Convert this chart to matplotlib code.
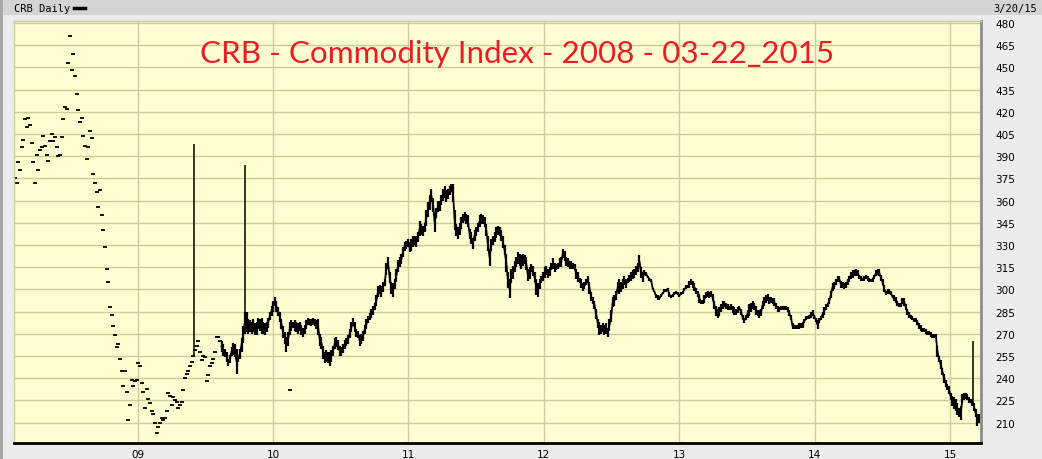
import pandas as pd
import numpy as np
import matplotlib
matplotlib.use("Agg")
import matplotlib.pyplot as plt
from matplotlib.lines import Line2D
from matplotlib.patches import Rectangle

# CRB daily, 2008 - 03/20/2015
# early part (2008 - mid 2009): only closing ticks are shown
dash_closes = [
    375, 372, 386, 381, 396, 401, 415, 410, 416, 411, 399, 386,
    372, 391, 381, 394, 396, 404, 397, 391, 387, 400, 405, 400,
    403, 396, 390, 391, 403, 415, 423, 422, 453, 471, 448, 459,
    444, 432, 421, 413, 416, 404, 397, 388, 396, 407, 402, 378,
    372, 366, 356, 367, 350, 340, 329, 314, 305, 288, 283, 275,
    269, 261, 263, 253, 245, 235, 245, 231, 212, 222, 239, 235,
    238, 239, 250, 248, 237, 231, 220, 233, 226, 223, 218, 216,
    210, 203, 207, 210, 213, 212, 213, 218, 230, 228, 222, 227,
    225, 224, 220, 222, 224, 232, 240, 243, 245, 248, 251, 255,
    259, 262, 265, 258, 252, 255, 254, 238, 242, 248, 250, 253,
    258, 268, 268, 265,
]

# later part: high / low ranges
highs = [
    265, 263, 260, 258, 253, 256, 261, 264, 263, 260, 255,
    260, 267, 275, 285, 285, 280, 279, 278, 280, 277, 278, 281,
    280, 281, 278, 277, 278, 281, 285, 289, 292, 295, 292, 288,
    285, 280, 275, 271, 268, 271, 278, 279, 278, 279, 278, 277,
    278, 276, 274, 276, 279, 281, 280, 280, 281, 280, 279, 280,
    270, 268, 262, 258, 259, 258, 258, 259, 262, 267, 268, 266,
    262, 261, 263, 266, 267, 269, 273, 278, 281, 278, 273, 272,
    269, 270, 272, 276, 280, 282, 284, 287, 289, 291, 296, 302,
    303, 302, 305, 307, 318, 322, 312, 305, 304, 307, 314, 320,
    322, 324, 329, 332, 333, 334, 332, 334, 336, 336, 336, 339,
    346, 344, 343, 345, 354, 359, 364, 368, 362, 352, 355, 360,
    360, 364, 368, 370, 367, 368, 370, 371, 371, 354, 344, 342,
    345, 349, 351, 352, 351, 350, 341, 339, 335, 340, 342, 345,
    350, 351, 350, 349, 344, 336, 327, 334, 336, 339, 342, 343,
    342, 340, 336, 330, 324, 312, 307, 314, 316, 319, 322, 325,
    324, 323, 324, 323, 322, 314, 315, 317, 316, 312, 307, 304,
    307, 309, 312, 315, 316, 314, 315, 318, 321, 318, 317, 318,
    321, 322, 327, 326, 322, 321, 319, 319, 318, 317, 314, 312,
    308, 307, 304, 305, 307, 309, 305, 298, 295, 292, 287, 280,
    278, 276, 277, 276, 277, 274, 280, 286, 295, 296, 299, 305,
    307, 305, 307, 309, 307, 308, 310, 312, 313, 314, 316, 318,
    323, 315, 312, 313, 312, 309, 308, 307, 301, 299, 297, 296,
    295, 297, 298, 300, 300, 301, 298, 296, 297, 298, 299, 298,
    297, 298, 299, 301, 303, 303, 306, 307, 306, 304, 301, 299,
    297, 293, 293, 296, 298, 299, 298, 299, 297, 292, 289, 287,
    288, 290, 292, 292, 291, 290, 289, 290, 289, 288, 287, 288,
    289, 287, 283, 281, 283, 286, 290, 291, 292, 291, 289, 286,
    286, 287, 292, 295, 296, 297, 295, 295, 294, 294, 291, 289,
    288, 289, 289, 289, 289, 288, 286, 283, 277, 276, 276, 276,
    277, 277, 278, 280, 282, 282, 283, 285, 286, 283, 281, 279,
    281, 282, 285, 288, 290, 291, 294, 299, 304, 305, 307, 309,
    309, 306, 305, 304, 305, 307, 309, 312, 313, 313, 314, 313,
    310, 309, 308, 309, 310, 309, 308, 307, 308, 310, 313, 314,
    314, 310, 307, 303, 299, 300, 300, 299, 296, 296, 295, 292,
    291, 291, 294, 294, 290, 287, 285, 283, 282, 281, 281, 279,
    277, 276, 274, 274, 273, 272, 272, 271, 270, 270, 270, 262,
    255, 252, 247, 243, 239, 236, 235, 230, 228, 227, 226, 223,
    220, 221, 229, 230, 230, 229, 227, 226, 226, 223, 219, 216, 216,
]
lows = [
    258, 255, 254, 251, 248, 250, 255, 256, 254, 243, 251,
    253, 258, 264, 270, 271, 270, 271, 270, 271, 269, 269, 273,
    272, 270, 270, 269, 271, 274, 279, 282, 285, 289, 285, 282,
    278, 273, 267, 263, 258, 262, 269, 272, 274, 272, 271, 270,
    272, 269, 268, 270, 273, 276, 276, 275, 276, 275, 273, 269,
    262, 260, 253, 250, 251, 250, 248, 251, 255, 260, 261, 259,
    255, 255, 257, 260, 262, 263, 267, 271, 275, 271, 268, 267,
    262, 263, 265, 270, 273, 277, 279, 281, 283, 286, 289, 295,
    297, 295, 298, 302, 310, 314, 304, 297, 295, 300, 305, 312,
    315, 317, 322, 326, 327, 329, 325, 326, 329, 330, 329, 332,
    336, 337, 336, 339, 343, 349, 354, 359, 352, 339, 348, 352,
    353, 357, 360, 362, 359, 361, 364, 366, 359, 340, 336, 334,
    337, 341, 345, 346, 344, 342, 334, 331, 327, 333, 336, 339,
    342, 344, 344, 342, 336, 326, 316, 326, 330, 332, 335, 337,
    336, 333, 328, 323, 312, 301, 294, 304, 307, 312, 315, 317,
    316, 314, 316, 317, 313, 306, 307, 312, 309, 305, 296, 295,
    300, 304, 306, 308, 310, 308, 309, 313, 314, 312, 313, 314,
    315, 315, 321, 319, 316, 315, 314, 314, 314, 313, 307, 305,
    304, 301, 299, 300, 303, 304, 297, 292, 290, 287, 280, 274,
    269, 270, 271, 269, 270, 268, 272, 278, 288, 289, 293, 298,
    297, 298, 300, 303, 301, 304, 305, 306, 307, 308, 310, 312,
    315, 308, 305, 310, 309, 308, 306, 305, 300, 298, 294, 293,
    293, 295, 297, 298, 298, 300, 295, 294, 295, 296, 297, 296,
    295, 296, 297, 299, 300, 301, 301, 303, 301, 299, 297, 295,
    291, 290, 290, 291, 294, 295, 294, 295, 292, 287, 282, 281,
    282, 285, 287, 288, 287, 286, 286, 286, 284, 283, 283, 284,
    286, 283, 279, 277, 279, 281, 282, 285, 287, 286, 283, 282,
    281, 282, 287, 289, 291, 292, 290, 291, 290, 289, 287, 285,
    285, 286, 286, 286, 286, 285, 282, 279, 273, 273, 273, 273,
    273, 274, 274, 277, 279, 280, 280, 281, 282, 280, 278, 273,
    277, 279, 281, 283, 286, 288, 290, 294, 299, 300, 303, 305,
    305, 301, 301, 300, 301, 303, 305, 307, 308, 309, 309, 309,
    307, 306, 306, 306, 307, 306, 305, 305, 305, 307, 309, 310,
    309, 306, 303, 298, 296, 297, 297, 296, 294, 292, 291, 289,
    288, 288, 290, 289, 286, 283, 281, 280, 279, 278, 278, 276,
    273, 272, 271, 271, 270, 269, 269, 268, 267, 267, 268, 254,
    251, 246, 242, 237, 234, 232, 229, 225, 221, 219, 218, 215,
    214, 212, 223, 225, 226, 225, 223, 223, 221, 218, 214, 208, 210,
]

# single-day spikes and a stray tick
spike_dates = ["2009-06-01", "2009-10-18", "2015-03-04"]
spike_lows = [255, 270, 221]
spike_highs = [398, 384, 265]
stray_dates = ["2010-02-16"]
stray_closes = [232]

all_dates = pd.date_range("2008-02-06", "2015-03-20", periods=len(dash_closes) + len(highs))
dash_dates = all_dates[:len(dash_closes)]
bar_dates = all_dates[len(dash_closes):]

year_ticks = pd.to_datetime(["2009-01-01", "2010-01-01", "2011-01-01", "2012-01-01",
                             "2013-01-01", "2014-01-01", "2015-01-01"])
year_labels = ["09", "10", "11", "12", "13", "14", "15"]
price_ticks = list(range(210, 481, 15))

W, H = 1042, 460
fig = plt.figure(figsize=(W / 100, H / 100), dpi=100)
fig.patch.set_facecolor("#ececec")

# header strip
fig.add_artist(Rectangle((0, 1 - 16 / H), 1, 16 / H, transform=fig.transFigure,
                         facecolor="#d4d4d4", edgecolor="none"))
fig.add_artist(Rectangle((0, 0), 3 / W, 1, transform=fig.transFigure,
                         facecolor="#a8a8a8", edgecolor="none"))
fig.text(14 / W, 1 - 9 / H, "CRB Daily", family="DejaVu Sans Mono", fontsize=7.5,
         va="center", ha="left", color="black")
fig.add_artist(Line2D([74 / W, 85 / W], [1 - 9 / H] * 2, transform=fig.transFigure,
                      color="black", lw=2.5))
fig.text(1037 / W, 1 - 9 / H, "3/20/15", family="DejaVu Sans Mono", fontsize=7.5,
         va="center", ha="right", color="black")

ax = fig.add_axes([14 / W, 16 / H, (981.3 - 14) / W, (444 - 22) / H])
ax.set_facecolor("#fefed0")

# grid
for v in price_ticks:
    ax.axhline(v, color="#cbcb9c", lw=1, zorder=0)
for d in year_ticks:
    ax.axvline(d, color="#cbcb9c", lw=1, zorder=0)

# closing ticks
ax.plot(dash_dates, dash_closes, ls="none", marker="_", ms=3.2, mew=1.3, color="black")
ax.plot(pd.to_datetime(stray_dates), stray_closes, ls="none", marker="_", ms=3.2,
        mew=1.3, color="black")

# high-low bars
lo = np.array(lows)
hi = np.array(highs)
ax.vlines(bar_dates, lo, hi, color="black", lw=1.6)
ax.plot(bar_dates, (lo + hi) / 2, color="black", lw=1.3)
ax.vlines(pd.to_datetime(spike_dates), spike_lows, spike_highs, color="black", lw=1.1)

ax.set_xlim(pd.Timestamp("2008-02-03"), pd.Timestamp("2015-03-26"))
ax.set_ylim(196.2, 481.4)

ax.yaxis.tick_right()
ax.set_yticks(price_ticks)
ax.set_yticklabels([str(v) for v in price_ticks])
ax.set_xticks(year_ticks)
ax.set_xticklabels(year_labels)
ax.tick_params(axis="y", length=0, pad=10, labelsize=7.5)
ax.tick_params(axis="x", length=0, pad=4, labelsize=7.5)

for side in ["top", "left"]:
    ax.spines[side].set_color("#cbcb9c")
    ax.spines[side].set_linewidth(1)
ax.spines["bottom"].set_color("black")
ax.spines["bottom"].set_linewidth(2)
ax.spines["right"].set_color("#8c8c8c")
ax.spines["right"].set_linewidth(2)

fig.text(517 / W, 1 - 54 / H, "CRB - Commodity Index - 2008 - 03-22_2015",
         family="Lato", fontsize=22.6, color="#ed1c24", ha="center", va="center")

fig.savefig("out.png", dpi=100, facecolor=fig.get_facecolor())
